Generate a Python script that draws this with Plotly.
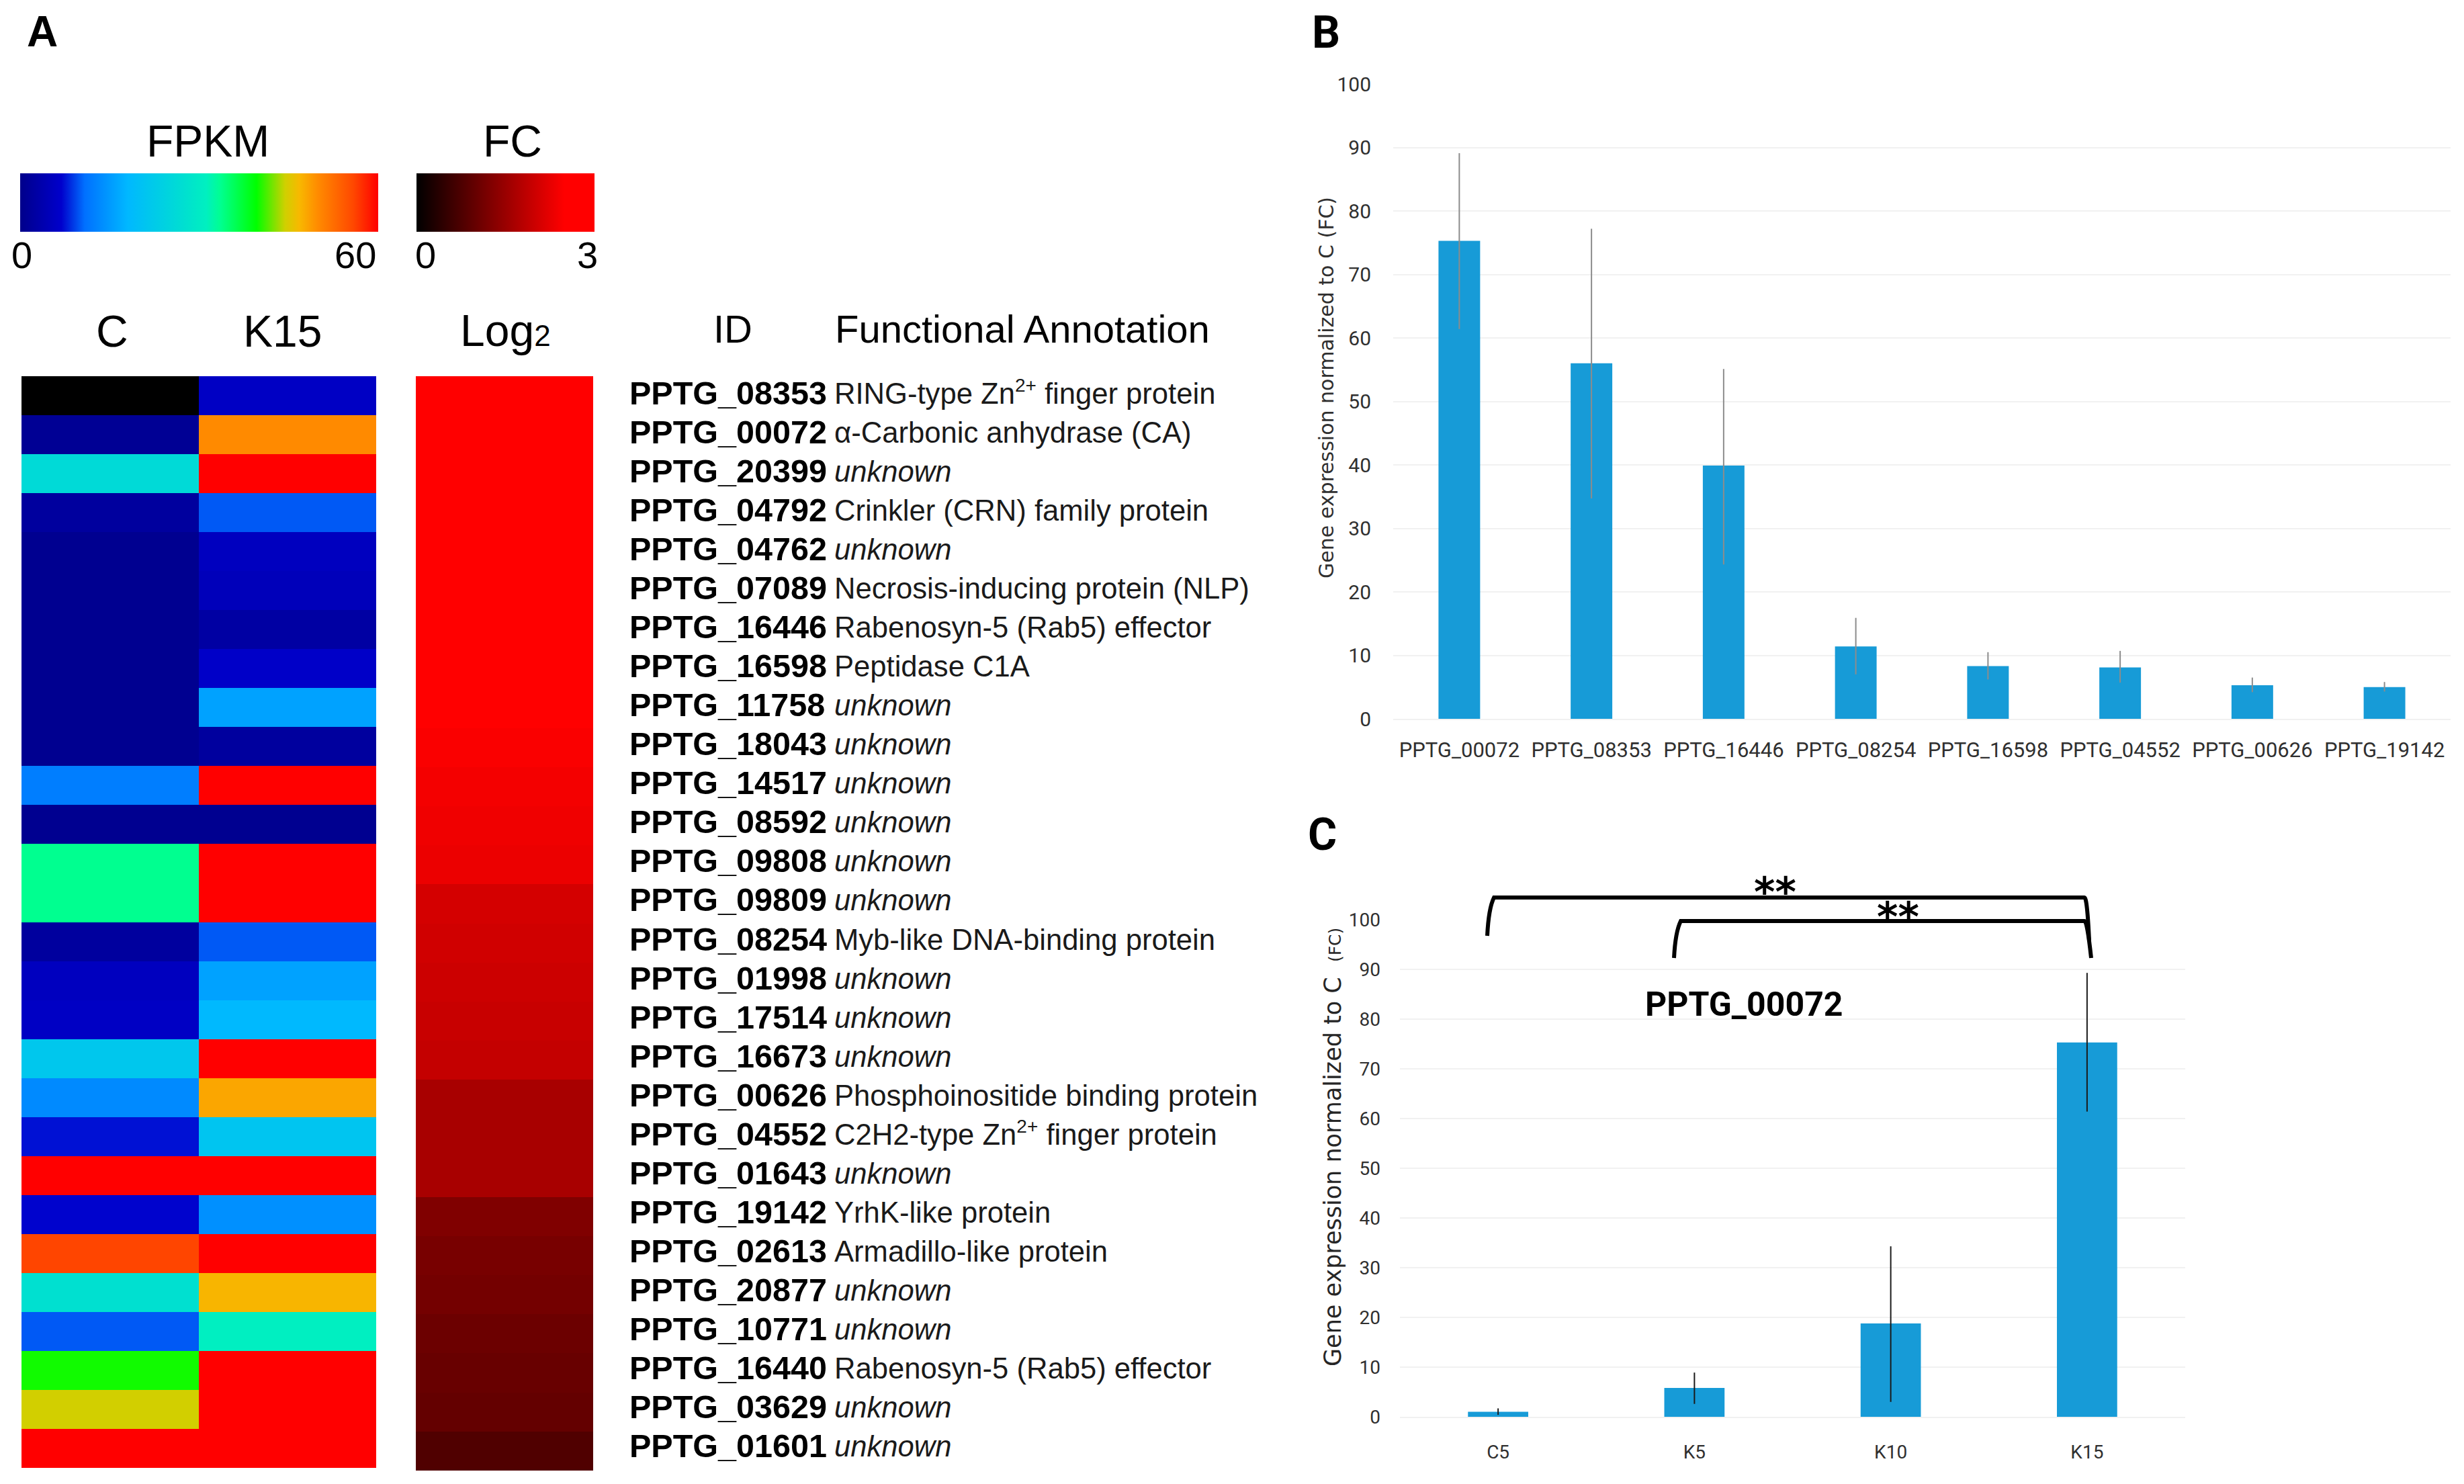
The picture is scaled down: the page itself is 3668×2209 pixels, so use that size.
import plotly.graph_objects as go

W = 3668
H = 2209

# panel A
gene_ids = ["PPTG_08353", "PPTG_00072", "PPTG_20399", "PPTG_04792", "PPTG_04762", "PPTG_07089", "PPTG_16446",
            "PPTG_16598", "PPTG_11758", "PPTG_18043", "PPTG_14517", "PPTG_08592", "PPTG_09808", "PPTG_09809",
            "PPTG_08254", "PPTG_01998", "PPTG_17514", "PPTG_16673", "PPTG_00626", "PPTG_04552", "PPTG_01643",
            "PPTG_19142", "PPTG_02613", "PPTG_20877", "PPTG_10771", "PPTG_16440", "PPTG_03629", "PPTG_01601"]
ZN = 'Zn<sup><span style="font-size:28px">2+</span></sup>'
annotations_text = ["RING-type " + ZN + " finger protein", "α-Carbonic anhydrase (CA)", "<i>unknown</i>",
                    "Crinkler (CRN) family protein", "<i>unknown</i>", "Necrosis-inducing protein (NLP)",
                    "Rabenosyn-5 (Rab5) effector", "Peptidase C1A", "<i>unknown</i>", "<i>unknown</i>",
                    "<i>unknown</i>", "<i>unknown</i>", "<i>unknown</i>", "<i>unknown</i>",
                    "Myb-like DNA-binding protein", "<i>unknown</i>", "<i>unknown</i>", "<i>unknown</i>",
                    "Phosphoinositide binding protein", "C2H2-type " + ZN + " finger protein", "<i>unknown</i>",
                    "YrhK-like protein", "Armadillo-like protein", "<i>unknown</i>", "<i>unknown</i>",
                    "Rabenosyn-5 (Rab5) effector", "<i>unknown</i>", "<i>unknown</i>"]
# None = no expression, drawn black
fpkm_c = [None, 1, 26.2, 2, 0.5, 0.5, 0.5, 0.5, 0.5, 0.5, 12.2, 0.5, 33.6, 33.6,
          2, 5.5, 6, 21.6, 13.4, 7.5, 60, 7, 56, 27.6, 10, 40, 44.5, 60]
fpkm_k15 = [6, 50, 60, 10, 5.5, 5, 2.5, 6.5, 15.8, 2, 60, 0.5, 60, 60,
            10, 15.8, 18.2, 60, 48, 21, 60, 14, 60, 47, 31, 60, 60, 60]
log2_fc = [3, 3, 3, 3, 3, 3, 3, 3, 3, 2.44, 2.38, 2.34, 2.30, 2.07,
           2.03, 1.99, 1.95, 1.91, 1.64, 1.64, 1.64, 1.25, 1.17, 1.13, 1.05, 1.02, 0.98, 0.78]

# panel B
b_genes = ["PPTG_00072", "PPTG_08353", "PPTG_16446", "PPTG_08254", "PPTG_16598", "PPTG_04552", "PPTG_00626", "PPTG_19142"]
b_values = [75.3, 56, 39.9, 11.4, 8.3, 8.1, 5.3, 5.0]
b_err_up = [13.8, 21.2, 15.2, 4.5, 2.2, 2.6, 1.2, 0.8]
b_err_down = [13.9, 21.3, 15.6, 4.4, 2.1, 2.4, 1.1, 0.7]

# panel C
c_groups = ["C5", "K5", "K10", "K15"]
c_values = [1.0, 5.8, 18.8, 75.3]
c_err_up = [0.7, 3.1, 15.5, 14.0]
c_err_down = [0.6, 3.2, 15.8, 13.9]

y_ticks = [0, 10, 20, 30, 40, 50, 60, 70, 80, 90, 100]

jet_scale = [[0, "#00008b"], [0.115, "#0000cc"], [0.18, "#0070ff"], [0.30, "#00b8ff"], [0.46, "#00e0d0"],
             [0.52, "#00f0c0"], [0.56, "#00ff90"], [0.66, "#00ff00"], [0.74, "#d0d000"], [0.78, "#f8b800"],
             [0.83, "#ff8c00"], [0.93, "#ff4800"], [1, "#ff0000"]]
fc_scale = [[0, "#000000"], [0.83, "#ff0000"], [1, "#ff0000"]]
BAR_COLOR = "#179bd7"
GRID = "#f1f1f1"
ARIAL = "Liberation Sans"
CALIBRI = "Roboto"
VERDANA = "DejaVu Sans"


def px_x(x):
    return x / W


def px_y(y):
    return 1 - y / H


fig = go.Figure()

fig.add_trace(go.Heatmap(
    x=["C", "K15"], y=gene_ids,
    z=[list(row) for row in zip(fpkm_c, fpkm_k15)],
    colorscale=jet_scale, zmin=0, zmax=60, xaxis="x", yaxis="y",
    colorbar=dict(orientation="h", x=px_x(30), xanchor="left", y=px_y(345), yanchor="bottom",
                  len=533, lenmode="pixels", thickness=87, thicknessmode="pixels",
                  xpad=0, ypad=0, outlinewidth=0, tickvals=[], ticks=""),
))
fig.add_trace(go.Heatmap(
    x=["C", "K15"], y=gene_ids,
    z=[[1 if v is None else None, None] for v in fpkm_c],
    colorscale=[[0, "#000000"], [1, "#000000"]], showscale=False, xaxis="x", yaxis="y",
))
fig.add_trace(go.Heatmap(
    x=["Log2"], y=gene_ids,
    z=[[v] for v in log2_fc],
    colorscale=fc_scale, zmin=0, zmax=3, xaxis="x2", yaxis="y2",
    colorbar=dict(orientation="h", x=px_x(620), xanchor="left", y=px_y(345), yanchor="bottom",
                  len=265, lenmode="pixels", thickness=87, thicknessmode="pixels",
                  xpad=0, ypad=0, outlinewidth=0, tickvals=[], ticks=""),
))

fig.add_trace(go.Bar(
    x=b_genes, y=b_values, width=0.315, marker=dict(color=BAR_COLOR, line=dict(width=0)),
    error_y=dict(type="data", symmetric=False, array=b_err_up, arrayminus=b_err_down,
                 color="#8c8c8c", thickness=2, width=0),
    xaxis="x3", yaxis="y3",
))
fig.add_trace(go.Bar(
    x=c_groups, y=c_values, width=0.307, marker=dict(color=BAR_COLOR, line=dict(width=0)),
    error_y=dict(type="data", symmetric=False, array=c_err_up, arrayminus=c_err_down,
                 color="#1a1a1a", thickness=2, width=0),
    xaxis="x4", yaxis="y4",
))

hidden = dict(showgrid=False, zeroline=False, showticklabels=False, ticks="", showline=False)
heat_y = dict(domain=[px_y(2189), px_y(560)], autorange="reversed", **hidden)


def bar_yaxis(domain, font_size, standoff, anchor):
    return dict(domain=domain, range=[0, 100], tickvals=y_ticks, showgrid=True, gridcolor=GRID, gridwidth=2,
                zeroline=False, showline=False, ticks="", ticklabelstandoff=standoff,
                tickfont=dict(family=CALIBRI, size=font_size, color="#303030"),
                anchor=anchor)


def bar_xaxis(domain, font_size, standoff, anchor):
    return dict(domain=domain, showgrid=False, zeroline=False, ticks="", showline=True, linecolor=GRID, linewidth=2,
                ticklabelstandoff=standoff, tickfont=dict(family=CALIBRI, size=font_size, color="#303030"),
                anchor=anchor)


fig.update_layout(
    width=W, height=H, margin=dict(l=0, r=0, t=0, b=0, autoexpand=False), paper_bgcolor="white", plot_bgcolor="white",
    showlegend=False,
    xaxis=dict(domain=[px_x(32), px_x(560)], anchor="y", **hidden),
    yaxis=dict(anchor="x", **heat_y),
    xaxis2=dict(domain=[px_x(619), px_x(883)], anchor="y2", **hidden),
    yaxis2=dict(anchor="x2", **heat_y),
    xaxis3=bar_xaxis([px_x(2074), px_x(3648)], 31, 18, "y3"),
    yaxis3=bar_yaxis([px_y(1070), px_y(125)], 30, 32, "x3"),
    xaxis4=bar_xaxis([px_x(2084), px_x(3253)], 28, 26, "y4"),
    yaxis4=bar_yaxis([px_y(2109), px_y(1369)], 28, 28, "x4"),
)


def add_text(text, x, y, size, family=ARIAL, anchor="center", angle=0, color="#000000"):
    fig.add_annotation(text=text, x=px_x(x), y=px_y(y), xref="paper", yref="paper", showarrow=False,
                       xanchor=anchor, yanchor="middle", textangle=angle,
                       font=dict(family=family, size=size, color=color))


add_text("<b>A</b>", 63, 47, 64)
add_text("<b>B</b>", 1974, 48, 66, family=CALIBRI)
add_text("<b>C</b>", 1968, 1242, 66, family=CALIBRI)

add_text("FPKM", 309, 210, 66)
add_text("FC", 763, 210, 66)
add_text("0", 32, 379, 56)
add_text("60", 529, 379, 56)
add_text("0", 633, 379, 56)
add_text("3", 874, 379, 56)

add_text("C", 167, 493, 66)
add_text("K15", 420, 493, 66)
add_text('Log<span style="font-size:44px">2</span>', 752, 492, 66)
add_text("ID", 1091, 489, 58)
add_text("Functional Annotation", 1241, 489, 58, anchor="left")

for gene, note in zip(gene_ids, annotations_text):
    fig.add_annotation(text="<b>" + gene + "</b>", x=px_x(935), y=gene, xref="paper", yref="y", showarrow=False,
                       xanchor="left", yanchor="bottom", yshift=-25,
                       font=dict(family=ARIAL, size=48.5, color="#000000"))
    fig.add_annotation(text=note, x=px_x(1240), y=gene, xref="paper", yref="y", showarrow=False,
                       xanchor="left", yanchor="bottom", yshift=-23,
                       font=dict(family=ARIAL, size=43.6, color="#1a1a1a"))

add_text("Gene expression normalized to C (FC)", 1974, 577, 30, family=VERDANA, angle=-90, color="#303030")
add_text('Gene expression normalized to C  <span style="font-size:25px">(FC)</span>', 1984, 1708, 35,
         family=VERDANA, angle=-90, color="#262626")

add_text("<b>PPTG_00072</b>", 2596, 1495, 50, family=CALIBRI)
add_text("<b>**</b>", 2642, 1328, 60, family=VERDANA)
add_text("<b>**</b>", 2825, 1365, 60, family=VERDANA)


def bracket(points):
    # rounded bracket drawn in pixel space, left foot / top-left / top-right / right foot
    (x0, y0), (x1, y1), (x2, y2), (x3, y3) = points
    path = (f"M {px_x(x0)} {px_y(y0)} Q {px_x(x1)} {px_y(y1 + 16)} {px_x(x1 + 8)} {px_y(y1)} "
            f"L {px_x(x2 - 4)} {px_y(y2)} Q {px_x(x2)} {px_y(y2)} {px_x(x3)} {px_y(y3)}")
    fig.add_shape(type="path", path=path, xref="paper", yref="paper", line=dict(color="black", width=6))


bracket([(2214, 1393), (2216, 1336), (3107, 1336), (3110, 1400)])
bracket([(2492, 1426), (2494, 1371), (3107, 1371), (3113, 1426)])

# default page has an 8px body margin, the chart should sit flush
fig.write_html("out.html", config=dict(displayModeBar=False), post_script="document.body.style.margin = '0';")
